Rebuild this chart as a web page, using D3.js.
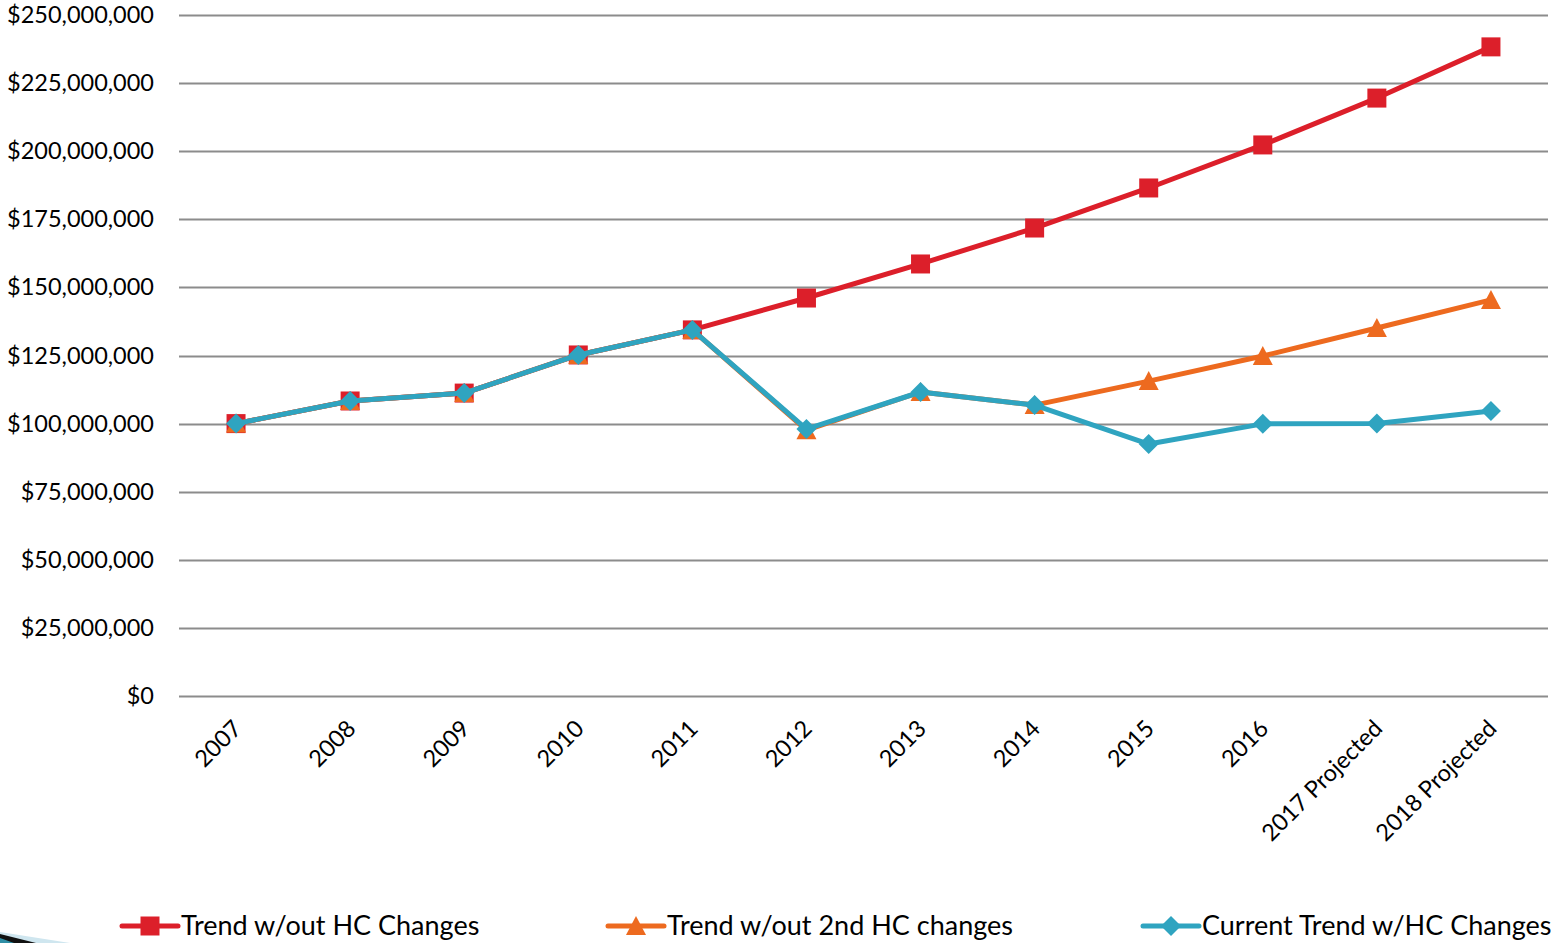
<!DOCTYPE html>
<html>
<head>
<meta charset="utf-8">
<script src="https://cdn.jsdelivr.net/npm/d3@7"></script>
<style>
  body { margin: 0; background: #fff; }
  svg text { font-family: Lato, "Open Sans", sans-serif; fill: #000; }
</style>
</head>
<body>
<div id="chart-area"></div>
<script>
// categories and series (values in dollars)
var years = ["2007", "2008", "2009", "2010", "2011", "2012", "2013", "2014", "2015", "2016", "2017 Projected", "2018 Projected"];
var trendNoHC = [100.0, 108.3, 111.2, 125.2, 134.4, 146.1, 158.6, 171.8, 186.5, 202.3, 219.5, 238.3].map(function(d){ return d * 1e6; });
var trendNo2nd = [100.0, 108.3, 111.2, 125.2, 134.4, 97.6, 111.6, 106.8, 115.6, 124.8, 135.1, 145.4].map(function(d){ return d * 1e6; });
var currentHC = [100.0, 108.3, 111.2, 125.2, 134.4, 98.0, 111.6, 106.8, 92.5, 99.9, 100.0, 104.6].map(function(d){ return d * 1e6; });
var yTicks = [0, 25e6, 50e6, 75e6, 100e6, 125e6, 150e6, 175e6, 200e6, 225e6, 250e6];

// marker shapes like the office chart ones (r = half size)
var square = { draw: function(ctx, r){ ctx.rect(-r, -r, 2 * r, 2 * r); } };
var triangle = { draw: function(ctx, r){
  ctx.moveTo(0, -r); ctx.lineTo(r, r * 0.9); ctx.lineTo(-r, r * 0.9); ctx.closePath(); } };
var diamond = { draw: function(ctx, r){
  ctx.moveTo(0, -r); ctx.lineTo(r, 0); ctx.lineTo(0, r); ctx.lineTo(-r, 0); ctx.closePath(); } };

var series = [
  {name: "Trend w/out HC Changes", values: trendNoHC, color: "#dc1f2a", marker: square, r: 9.5},
  {name: "Trend w/out 2nd HC changes", values: trendNo2nd, color: "#ed6a1f", marker: triangle, r: 10},
  {name: "Current Trend w/HC Changes", values: currentHC, color: "#2fa4c0", marker: diamond, r: 10}
];

var W = 1553, H = 943;
var margin = {left: 179, right: 5, top: 15, bottom: 247};
var width = W - margin.left - margin.right,   // 1369
    height = H - margin.top - margin.bottom;  // 681

var svg = d3.select("#chart-area")
  .append("svg")
    .attr("width", W)
    .attr("height", H);

var group = svg.append("g")
  .attr("transform", "translate(" + margin.left + "," + margin.top + ")");

var x = d3.scaleBand()
  .domain(years)
  .range([0, width]);

var y = d3.scaleLinear()
  .domain([0, 250e6])
  .range([height, 0]);

// gridlines
group.append("g")
  .selectAll("line")
  .data(yTicks)
  .enter()
  .append("line")
    .attr("x1", 0)
    .attr("x2", width)
    .attr("y1", function(d){ return Math.round(y(d)) + 0.5; })
    .attr("y2", function(d){ return Math.round(y(d)) + 0.5; })
    .attr("stroke", "#8c8c8c")
    .attr("stroke-width", 2);

// y axis labels
var fmt = d3.format("$,.0f");
var yAxis = d3.axisLeft(y)
  .tickValues(yTicks)
  .tickSize(0)
  .tickPadding(25)
  .tickFormat(function(d){ return fmt(d); });
var yg = group.append("g").call(yAxis);
yg.select(".domain").remove();
yg.selectAll("text")
  .attr("font-size", "23.5px")
  .attr("font-family", "Lato, 'Open Sans', sans-serif")
  .attr("fill", "#000");

// x axis labels (rotated)
var xAxis = d3.axisBottom(x).tickSize(0);
var xg = group.append("g")
  .attr("transform", "translate(0," + height + ")")
  .call(xAxis);
xg.select(".domain").remove();
xg.selectAll("text")
  .attr("font-size", "23.5px")
  .attr("font-family", "Lato, 'Open Sans', sans-serif")
  .attr("fill", "#000")
  .attr("text-anchor", "end")
  .attr("x", 0)
  .attr("y", 0)
  .attr("dy", "0")
  .attr("transform", "translate(7,34) rotate(-45)");

// lines
var cx = function(i){ return x(years[i]) + x.bandwidth() / 2; };
var line = d3.line()
  .x(function(d, i){ return cx(i); })
  .y(function(d){ return y(d); });

var layers = group.selectAll(".series")
  .data(series)
  .enter()
  .append("g")
    .attr("class", "series");

layers.append("path")
  .attr("d", function(s){ return line(s.values); })
  .attr("fill", "none")
  .attr("stroke", function(s){ return s.color; })
  .attr("stroke-width", 5)
  .attr("stroke-linejoin", "round");

layers.each(function(s){
  d3.select(this).selectAll("path.mark")
    .data(s.values)
    .enter()
    .append("path")
      .attr("class", "mark")
      .attr("d", d3.symbol().type(s.marker).size(s.r))
      .attr("transform", function(d, i){
        return "translate(" + cx(i) + "," + y(d) + ")";
      })
      .attr("fill", s.color);
});

// legend
var legendX = [122, 608, 1143];
var legend = svg.append("g")
  .selectAll("g")
  .data(series)
  .enter()
  .append("g")
    .attr("transform", function(s, i){ return "translate(" + legendX[i] + ",926)"; });

legend.append("line")
  .attr("x1", 0).attr("x2", 56)
  .attr("y1", 0).attr("y2", 0)
  .attr("stroke", function(s){ return s.color; })
  .attr("stroke-width", 5)
  .attr("stroke-linecap", "round");

legend.append("path")
  .attr("d", function(s){ return d3.symbol().type(s.marker).size(s.r)(); })
  .attr("transform", "translate(28,0)")
  .attr("fill", function(s){ return s.color; });

legend.append("text")
  .attr("x", 59)
  .attr("y", 0)
  .attr("dy", "0.35em")
  .attr("font-size", "27px")
  .text(function(s){ return s.name; });

// slide decoration in the bottom-left corner
svg.append("path")
  .attr("d", "M0,932 L70,943 L0,943 Z")
  .attr("fill", "#cfe6ef");
svg.append("path")
  .attr("d", "M0,934 L36,943 L0,943 Z")
  .attr("fill", "#111");
svg.append("path")
  .attr("d", "M0,938 L14,943 L0,943 Z")
  .attr("fill", "#2f8fa6");
</script>
</body>
</html>
